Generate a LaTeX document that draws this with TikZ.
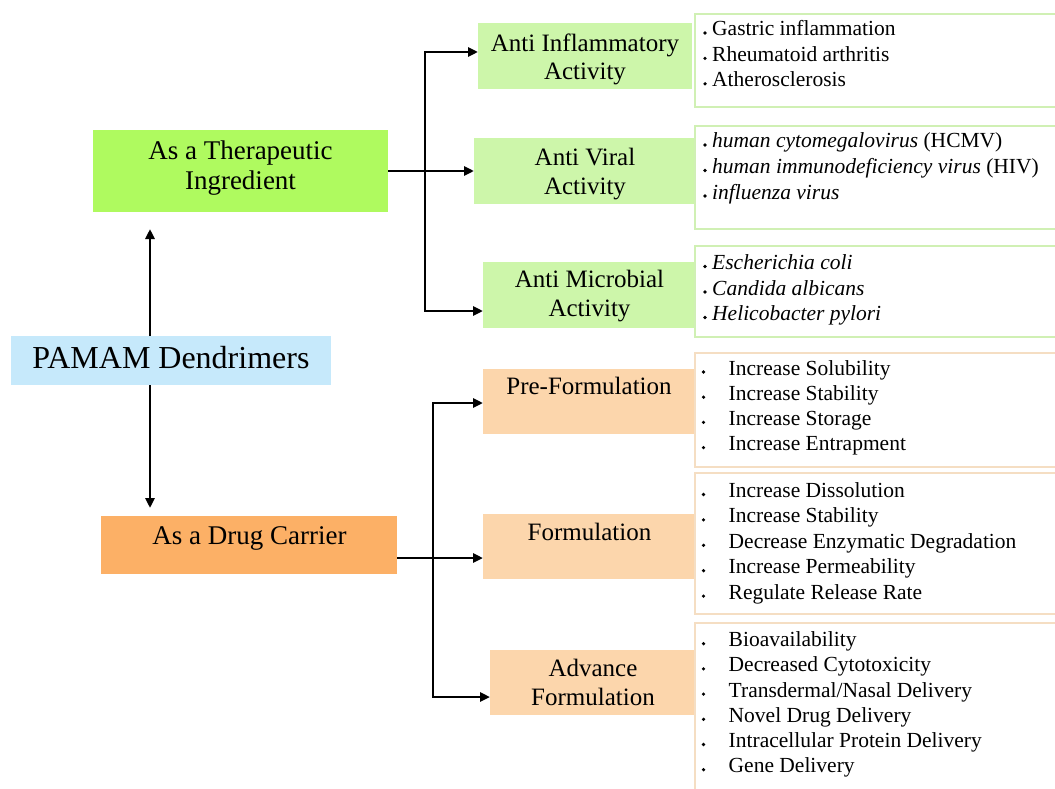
\documentclass[tikz,border=0pt]{standalone}
\usepackage{fontspec}
\setmainfont{Liberation Serif}
\usetikzlibrary{arrows.meta}
\definecolor{thergreen}{RGB}{175,250,95}
\definecolor{catgreen}{RGB}{205,246,170}
\definecolor{pamblue}{RGB}{198,233,251}
\definecolor{carrorange}{RGB}{252,176,102}
\definecolor{catorange}{RGB}{252,214,172}
\definecolor{detgreen}{RGB}{208,240,180}
\definecolor{detorange}{RGB}{245,222,195}
\begin{document}
\begin{tikzpicture}[x=1pt,y=-1pt,
  boxs/.style={inner sep=0pt, outer sep=0pt, draw=none},
  detbox/.style={inner sep=0pt, outer sep=0pt, fill=white, line width=1.6pt, minimum width=375},
  lbl/.style={inner sep=0pt, anchor=base, font=\fontsize{25}{29}\selectfont},
  biglbl/.style={inner sep=0pt, anchor=base, font=\fontsize{27}{30}\selectfont},
  item/.style={inner sep=0pt, anchor=base west, font=\fontsize{21.5}{25}\selectfont},
  bul/.style={circle, fill=black, inner sep=0pt, minimum size=3.6pt},
  arr/.style={line width=2.8pt, -{Triangle[length=10pt,width=9pt]}},
  darr/.style={line width=2.8pt, {Triangle[length=10pt,width=9pt]}-{Triangle[length=10pt,width=9pt]}}]
\useasboundingbox (0,0) rectangle (1055,789);
\clip (0,0) rectangle (1055,789);
\fill[white] (0,0) rectangle (1055,789);

% main boxes
\node[boxs, fill=thergreen, minimum width=295, minimum height=82] (ther) at (240.5,171) {};
\node[boxs, fill=pamblue, minimum width=320, minimum height=49] (pam) at (171,360.5) {};
\node[boxs, fill=carrorange, minimum width=296, minimum height=58] (dc) at (249,545) {};

% category boxes
\node[boxs, fill=catgreen, minimum width=214, minimum height=66] (ai) at (585,56) {};
\node[boxs, fill=catgreen, minimum width=222, minimum height=66] (av) at (585,171) {};
\node[boxs, fill=catgreen, minimum width=213, minimum height=66] (am) at (589.5,295) {};
\node[boxs, fill=catorange, minimum width=213, minimum height=65] (pf) at (589.5,401.5) {};
\node[boxs, fill=catorange, minimum width=213, minimum height=65] (fo) at (589.5,546.5) {};
\node[boxs, fill=catorange, minimum width=206, minimum height=65] (af) at (593,682.5) {};

% detail boxes
\node[detbox, draw=detgreen, minimum height=93] (d1) at (882.5,60.5) {};
\node[detbox, draw=detgreen, minimum height=103] (d2) at (882.5,177.5) {};
\node[detbox, draw=detgreen, minimum height=91] (d3) at (882.5,291.5) {};
\node[detbox, draw=detorange, minimum height=114] (d4) at (882.5,410) {};
\node[detbox, draw=detorange, minimum height=141] (d5) at (882.5,543.5) {};
\node[detbox, draw=detorange, minimum height=177] (d6) at (882.5,711.5) {};

% main labels
\node[biglbl] (ther-t1) at (240.5,159.5) {As a Therapeutic};
\node[biglbl] (ther-t2) at (240.5,189.5) {Ingredient};
\node[inner sep=0pt, anchor=base, font=\fontsize{32}{36}\selectfont] (pam-t) at (171,368) {PAMAM Dendrimers};
\node[biglbl] (dc-t) at (249.5,544) {As a Drug Carrier};

% category labels
\node[lbl] (ai-t1) at (585,51.5) {Anti Inflammatory};
\node[lbl] (ai-t2) at (585,80) {Activity};
\node[lbl] (av-t1) at (585,165.5) {Anti Viral};
\node[lbl] (av-t2) at (585,194.5) {Activity};
\node[lbl] (am-t1) at (589.5,287.5) {Anti Microbial};
\node[lbl] (am-t2) at (589.5,316) {Activity};
\node[lbl] (pf-t) at (589,394) {Pre-Formulation};
\node[lbl] (fo-t) at (589.5,540) {Formulation};
\node[lbl] (af-t1) at (593,676) {Advance};
\node[lbl] (af-t2) at (593,705) {Formulation};

% detail items (green)
\foreach \t [count=\i] in {Gastric inflammation, Rheumatoid arthritis, Atherosclerosis} {
  \node[item] (g1-\i) at (712,36+25.4*\i-25.4) {\t};
  \node[bul] (g1b-\i) at (705,33+25.4*\i-25.4) {};
}
\foreach \t [count=\i] in {{\textit{human cytomegalovirus} (HCMV)}, {\textit{human immunodeficiency virus} (HIV)}, {\textit{influenza virus}}} {
  \node[item] (g2-\i) at (712,148+25.5*\i-25.5) {\t};
  \node[bul] (g2b-\i) at (705,145+25.5*\i-25.5) {};
}
\foreach \t [count=\i] in {{\textit{Escherichia coli}}, {\textit{Candida albicans}}, {\textit{Helicobacter pylori}}} {
  \node[item] (g3-\i) at (712,269.5+25.5*\i-25.5) {\t};
  \node[bul] (g3b-\i) at (705,266.5+25.5*\i-25.5) {};
}
% detail items (orange)
\foreach \t [count=\i] in {Increase Solubility, Increase Stability, Increase Storage, Increase Entrapment} {
  \node[item] (o1-\i) at (728.5,375+25.2*\i-25.2) {\t};
  \node[bul] (o1b-\i) at (703.5,372+25.2*\i-25.2) {};
}
\foreach \t [count=\i] in {Increase Dissolution, Increase Stability, Decrease Enzymatic Degradation, Increase Permeability, Regulate Release Rate} {
  \node[item] (o2-\i) at (728.5,497.5+25.4*\i-25.4) {\t};
  \node[bul] (o2b-\i) at (703.5,494.5+25.4*\i-25.4) {};
}
\foreach \t [count=\i] in {Bioavailability, Decreased Cytotoxicity, Transdermal/Nasal Delivery, Novel Drug Delivery, Intracellular Protein Delivery, Gene Delivery} {
  \node[item] (o3-\i) at (728.5,646.7+25.2*\i-25.2) {\t};
  \node[bul] (o3b-\i) at (703.5,643.7+25.2*\i-25.2) {};
}

% connectors
\coordinate (vx) at (150,0);
\draw[arr, shorten >=17pt] (vx |- pam.north) -- (vx |- ther.south);
\draw[arr, shorten >=8pt] (vx |- pam.south) -- (vx |- dc.north);

\coordinate (t1) at (425,52);
\coordinate (t2) at (425,311);
\draw[darr] (t1 -| ai.west) -- (t1) -- (t2) -- (t2 -| am.west);
\draw[arr] (ther.east) -- (av.west);

\coordinate (b1) at (433,403);
\coordinate (b2) at (433,697);
\coordinate (by) at (0,558);
\draw[darr] (b1 -| pf.west) -- (b1) -- (b2) -- (b2 -| af.west);
\draw[arr] (dc.east |- by) -- (fo.west |- by);
\end{tikzpicture}
\end{document}
